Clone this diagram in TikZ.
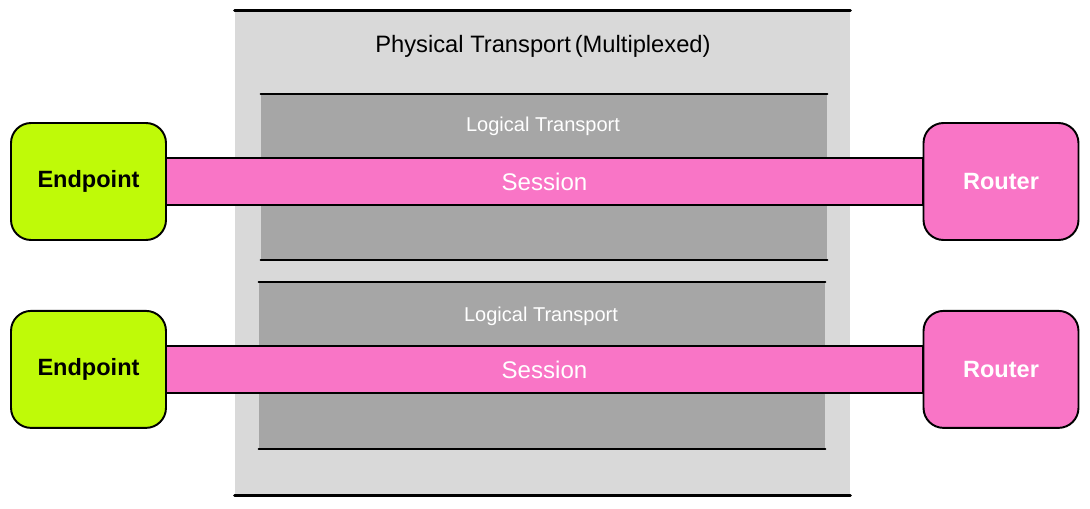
\documentclass[tikz,border=0pt]{standalone}
\usepackage{fontspec}
\setmainfont{Liberation Sans}
\usetikzlibrary{positioning}
\definecolor{physgray}{HTML}{D9D9D9}
\definecolor{loggray}{HTML}{A6A6A6}
\definecolor{epgreen}{HTML}{BFFA08}
\definecolor{sesspink}{HTML}{F975C6}
\tikzset{%
  layer/.style    = {fill=physgray, inner sep=0pt}, % physical transport
  logical/.style  = {fill=loggray, inner sep=0pt, minimum width=11.32cm, minimum height=3.31cm},
  session/.style  = {draw, fill=sesspink, line width=0.6pt, inner sep=0pt,
    minimum width=15.14cm, minimum height=0.94cm, text=white, font=\fontsize{13.7}{16}\selectfont},
  box/.style      = {draw, line width=1.1pt, rounded corners=0.4cm, minimum width=3.1cm,
    minimum height=2.34cm, font=\bfseries\fontsize{13.4}{16}\selectfont},
  endpoint/.style = {box, fill=epgreen},
  router/.style   = {box, fill=sesspink, text=white},
  edge/.style     = {line cap=round}
}

\begin{document}
\begin{tikzpicture}[x=0.02cm, y=-0.02cm]
	\useasboundingbox (0,0) rectangle (1090,508);

	% physical transport
	\node at (542.5,253) [layer, minimum width=12.3cm, minimum height=9.68cm] (phys) {};
	\draw[edge, line width=1.7pt] (phys.north west) -- (phys.north east);
	\draw[edge, line width=1.7pt] (phys.south west) -- (phys.south east);
	\node at (543,46) [font=\fontsize{13.5}{16}\selectfont] (physlabel) {Physical Transport\,(Multiplexed)};

	% logical transports
	\node at (544,177) [logical] (log1) {};
	\node at (542,365.5) [logical] (log2) {};
	\foreach \l in {log1,log2}{%
		\draw[edge, line width=1.1pt] (\l.north west) -- (\l.north east);
		\draw[edge, line width=1.1pt] (\l.south west) -- (\l.south east);
	}
	\node at (543,126) [text=white, font=\fontsize{11.4}{13}\selectfont] (log1label) {Logical Transport};
	\node at (541,316) [text=white, font=\fontsize{11.4}{13}\selectfont] (log2label) {Logical Transport};

	% sessions
	\node at (544.5,181.5) [session] (sess1) {Session};
	\node at (544.5,369.5) [session] (sess2) {Session};

	% endpoints and routers
	\node at (88.5,181.5) [endpoint] (ep1) {Endpoint};
	\node [endpoint, below=1.38cm of ep1] (ep2) {Endpoint};
	\node at (1001,181.5) [router] (rt1) {Router};
	\node [router, below=1.38cm of rt1] (rt2) {Router};

\end{tikzpicture}
\end{document}
